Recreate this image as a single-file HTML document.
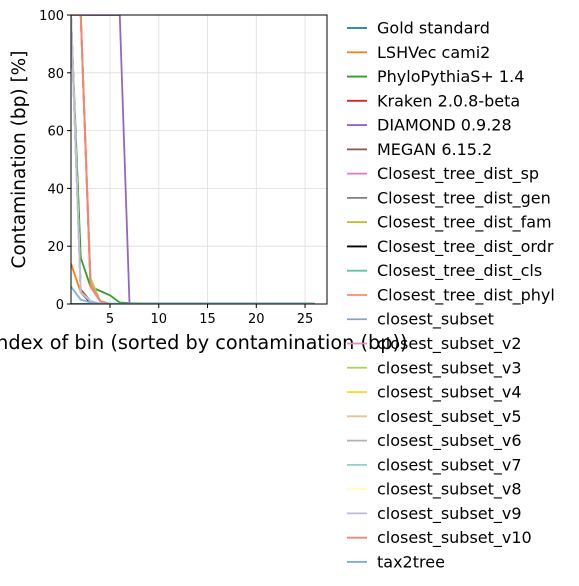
<!DOCTYPE html>
<html><head><meta charset="utf-8"><style>
body{margin:0;background:#fff;width:579px;height:586px;overflow:hidden;font-family:"DejaVu Sans","Liberation Sans",sans-serif}
svg{position:absolute;left:0;top:0}
</style></head><body>
<svg id="chart" width="579" height="586"></svg>
<script>
const seriesNames=["Gold standard","LSHVec cami2","PhyloPythiaS+ 1.4","Kraken 2.0.8-beta","DIAMOND 0.9.28","MEGAN 6.15.2","Closest_tree_dist_sp","Closest_tree_dist_gen","Closest_tree_dist_fam","Closest_tree_dist_ordr","Closest_tree_dist_cls","Closest_tree_dist_phyl","closest_subset","closest_subset_v2","closest_subset_v3","closest_subset_v4","closest_subset_v5","closest_subset_v6","closest_subset_v7","closest_subset_v8","closest_subset_v9","closest_subset_v10","tax2tree"];
const seriesColors=["#1f77b4","#ff7f0e","#2ca02c","#d62728","#9467bd","#8c564b","#e377c2","#7f7f7f","#bcbd22","#000000","#66c2a5","#fc8d62","#8da0cb","#e78ac3","#a6d854","#ffd92f","#e5c494","#b3b3b3","#8dd3c7","#ffffb3","#bebada","#fb8072","#80b1d3"];
const goldVals=[0,0,0];
const lshvecVals=[14,4,1,0,0];
const phyloVals=[100,16,6,4.5,3,0.5,0.3,0.2,0.2,0.2,0.2,0.2,0.2,0.2,0.2,0.2,0.2,0.2,0.2,0.2,0.2,0.2,0.2,0.2,0.2,0.1];
const krakenVals=[100,100,6,1,0];
const diamondVals=[100,100,100,100,100,100,0,0];
const meganVals=[100,5,1,0];
const spVals=[100,100,7,1,0];
const genVals=[100,4,1,0];
const famVals=[100,100,8,1,0];
const ordrVals=[100,4,0.5,0];
const clsVals=[100,4,1,0];
const phylVals=[100,100,6,1,0];
const csVals=[100,4,1,0];
const csV2Vals=[100,100,7,1,0];
const csV3Vals=[100,100,9,1,0];
const csV4Vals=[100,4,1,0];
const csV5Vals=[100,4,1,0];
const csV6Vals=[100,4,1,0];
const csV7Vals=[100,4,1,0];
const csV8Vals=[100,4,1,0];
const csV9Vals=[100,4,1,0];
const csV10Vals=[100,100,7,1,0];
const tax2treeVals=[6,1.5,0.5,0.2,0.1,0.1,0.1,0.1,0.1,0.1,0.1,0.1,0.1,0.1,0.1,0.1,0.1,0.1,0.1,0.1,0.1,0.1,0.1,0.1,0.1,0];
const allVals=[goldVals,lshvecVals,phyloVals,krakenVals,diamondVals,meganVals,spVals,genVals,famVals,ordrVals,clsVals,phylVals,csVals,csV2Vals,csV3Vals,csV4Vals,csV5Vals,csV6Vals,csV7Vals,csV8Vals,csV9Vals,csV10Vals,tax2treeVals];
const xTicks=[5,10,15,20,25];
const yTicks=[0,20,40,60,80,100];

const NS="http://www.w3.org/2000/svg";
const svg=document.getElementById('chart');
const L=71,R=327,T=15,B=304,XMIN=1,XMAX=27.25,YMIN=0,YMAX=100;
const xs=v=>L+(v-XMIN)/(XMAX-XMIN)*(R-L);
const ys=v=>B-(v-YMIN)/(YMAX-YMIN)*(B-T);
function mk(t,a,p){const e=document.createElementNS(NS,t);for(const k in a)e.setAttribute(k,a[k]);(p||svg).appendChild(e);return e;}
const defs=mk('defs',{});const cp=mk('clipPath',{id:'pc'},defs);mk('rect',{x:L,y:T,width:R-L,height:B-T},cp);
const grid=mk('g',{});


xTicks.forEach(v=>{mk('line',{x1:xs(v),x2:xs(v),y1:T,y2:B,stroke:'#dddddd','stroke-width':0.8},grid);});
yTicks.forEach(v=>{mk('line',{x1:L,x2:R,y1:ys(v),y2:ys(v),stroke:'#dddddd','stroke-width':0.8},grid);});
const lines=mk('g',{'clip-path':'url(#pc)'});
allVals.forEach((vals,i)=>{
  const pts=vals.map((v,j)=>xs(j+1)+','+ys(v)).join(' ');
  const pl=mk('polyline',{points:pts,fill:'none',stroke:seriesColors[i],'stroke-width':1.8,'stroke-linejoin':'round'},lines);
  
  
});
const frame=mk('rect',{x:L,y:T,width:R-L,height:B-T,fill:'none',stroke:'#000','stroke-width':1});


xTicks.forEach(v=>{
  mk('line',{x1:xs(v),x2:xs(v),y1:B,y2:B+4,stroke:'#000'});
  const t=mk('text',{x:xs(v),y:B+19,'text-anchor':'middle','font-size':13});t.textContent=v;
  
  
});
yTicks.forEach(v=>{
  mk('line',{x1:L-4,x2:L,y1:ys(v),y2:ys(v),stroke:'#000'});
  const t=mk('text',{x:L-7,y:ys(v)+5,'text-anchor':'end','font-size':13});t.textContent=v;
  
  
});
const xl=mk('text',{x:(L+R)/2,y:349,'text-anchor':'middle','font-size':19.3});xl.textContent='Index of bin (sorted by contamination (bp))';


const yl=mk('text',{x:0,y:0,'text-anchor':'middle','font-size':18.5,transform:'translate(25,'+((T+B)/2)+') rotate(-90)'});yl.textContent='Contamination (bp) [%]';


const leg=mk('g',{});


seriesNames.forEach((n,i)=>{
  const y=28+i*24.27;
  const g=mk('g',{},leg);
  
  
  mk('line',{x1:347,x2:367,y1:y,y2:y,stroke:seriesColors[i],'stroke-width':1.8},g);
  const t=mk('text',{x:377,y:y+5.5,'font-size':16},g);t.textContent=n;
});
</script>
</body></html>
